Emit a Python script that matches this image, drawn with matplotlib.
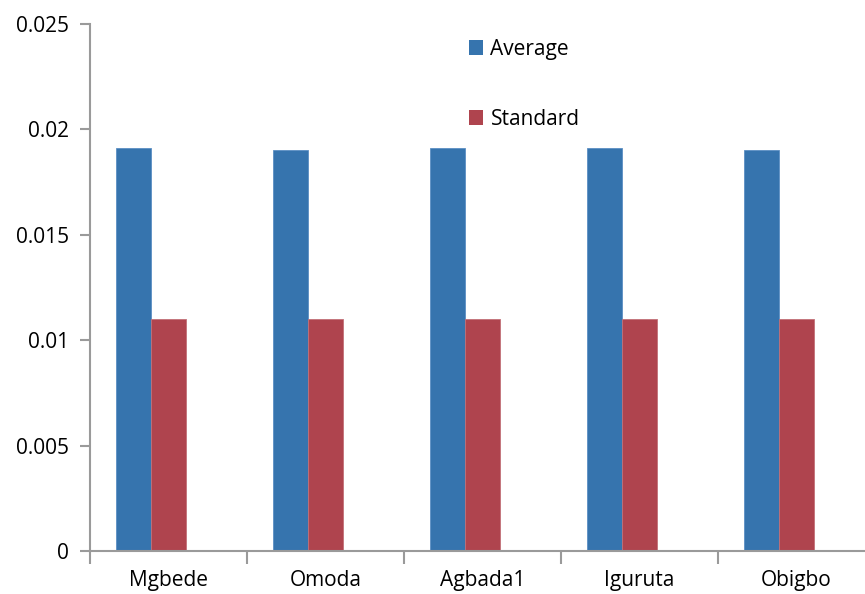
import numpy as np
import matplotlib.pyplot as plt
from matplotlib.patches import Patch

sites = ["Mgbede", "Omoda", "Agbada1", "Iguruta", "Obigbo"]
average = [0.0191, 0.0190, 0.0191, 0.0191, 0.0190]
standard = [0.011, 0.011, 0.011, 0.011, 0.011]

blue = "#3674AE"
red = "#AF444E"
axis_grey = "#9A9A9A"

plt.rcParams["font.family"] = ["Open Sans", "DejaVu Sans"]

fig = plt.figure(figsize=(8.65, 5.94), dpi=100)
# axes spills past the right edge, as in the original export
ax = fig.add_axes([90 / 865, 43 / 594, 785 / 865, 527 / 594])

x = np.arange(len(sites))
w = 1 / 4.5  # three series slots, 150% gap
ax.bar(x - w, average, w, color=blue, edgecolor="#5B8FC4", linewidth=0.6)
ax.bar(x, standard, w, color=red, edgecolor="#C27078", linewidth=0.6)

ax.set_xlim(-0.5, 4.5)
ax.set_ylim(0, 0.025)
ax.set_yticks([0, 0.005, 0.01, 0.015, 0.02, 0.025])
ax.set_yticklabels(["0", "0.005", "0.01", "0.015", "0.02", "0.025"])
ax.set_xticks(x)
ax.set_xticklabels(sites)
ax.set_xticks(np.arange(-0.5, 5, 1), minor=True)

for s in ["top", "right"]:
    ax.spines[s].set_visible(False)
for s in ["left", "bottom"]:
    ax.spines[s].set_color(axis_grey)
    ax.spines[s].set_linewidth(1.5)

ax.tick_params(axis="y", length=7, width=1.5, color=axis_grey, labelsize=15, pad=8)
ax.tick_params(axis="x", which="major", length=0, labelsize=15, pad=14)
ax.tick_params(axis="x", which="minor", length=9, width=1.5, color=axis_grey)

handles = [Patch(facecolor=blue), Patch(facecolor=red)]
ax.legend(handles, ["Average", "Standard"], loc="upper left",
          bbox_to_anchor=(364 / 785, 1.0), frameon=False, fontsize=15,
          handlelength=0.7, handleheight=0.7, handletextpad=0.35,
          labelspacing=2.35, borderaxespad=0.3)

fig.savefig("out.png", dpi=100)
